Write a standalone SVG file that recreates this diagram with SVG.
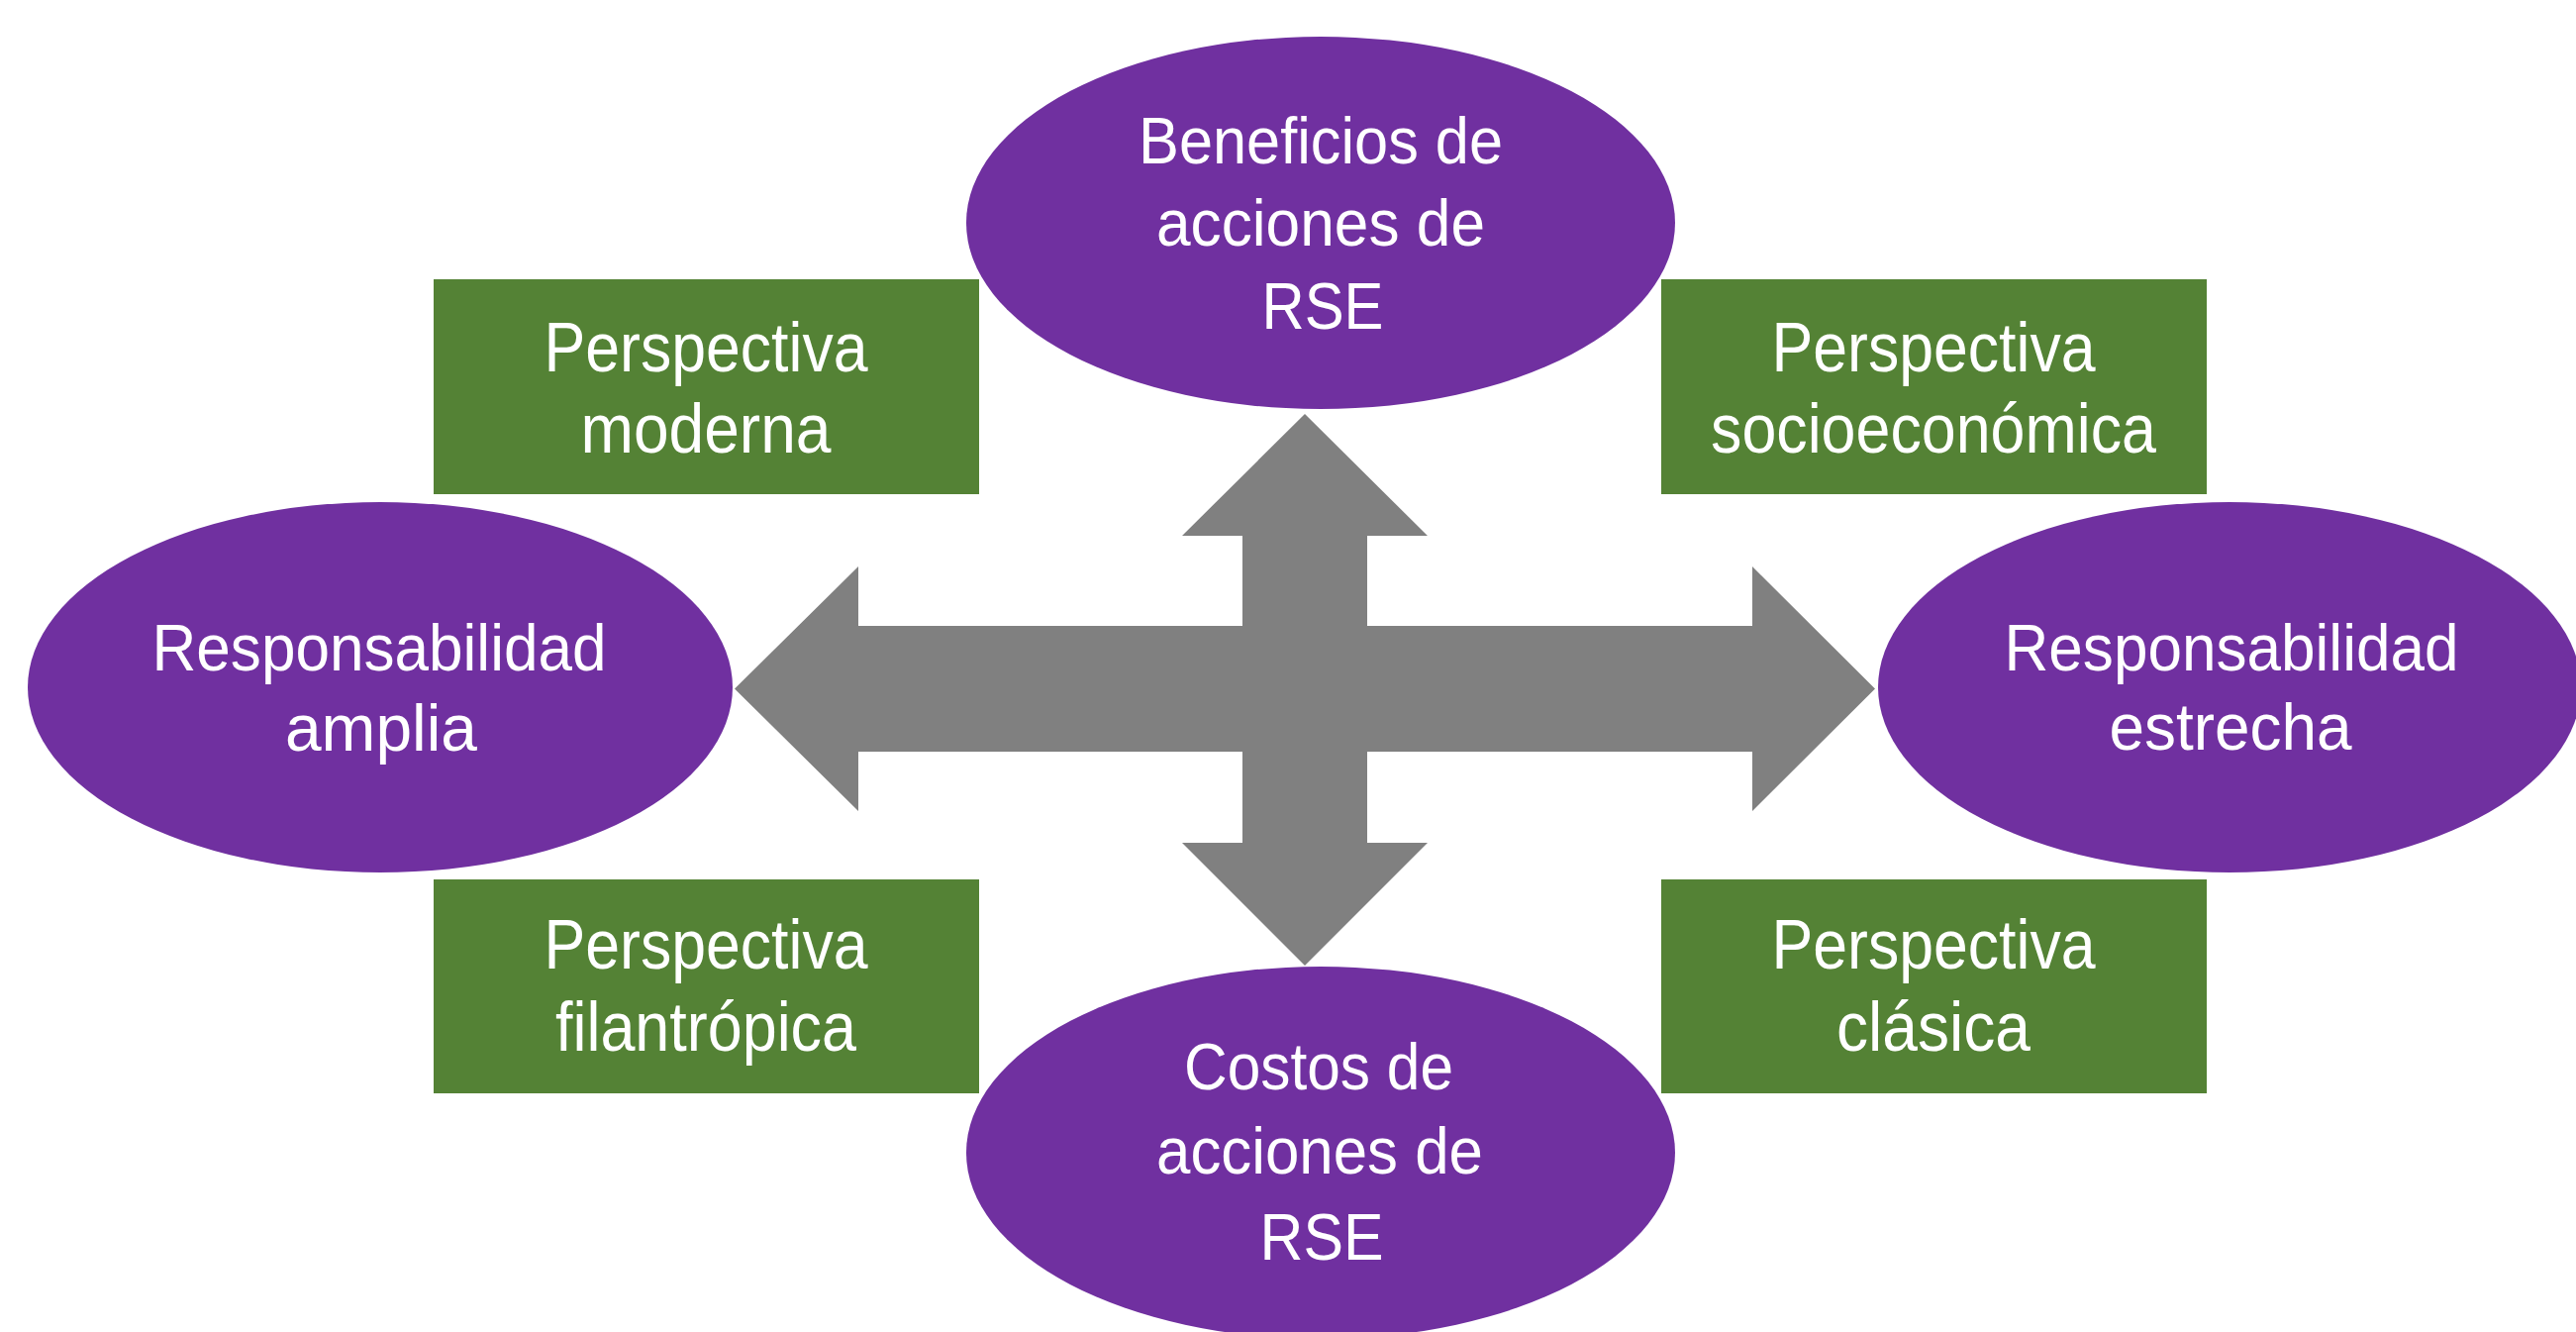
<svg xmlns="http://www.w3.org/2000/svg" width="2602" height="1345" viewBox="0 0 2602 1345">
  <style>
    .ell { fill: #7030A0; }
    .box { fill: #548235; }
    .arrow { fill: #808080; }
    .t { font-family: "Liberation Sans", Arial, sans-serif; fill: #FFFFFF; text-anchor: middle; }
    .te { font-size: 66px; }
    .tb { font-size: 70px; }
  </style>
  <rect x="0" y="0" width="2602" height="1345" fill="#FFFFFF"/>

  <g id="connectors">
    <polygon class="arrow" points="1318,418 1442,541 1381,541 1381,632 1770,632 1770,572 1894,695.5 1770,819 1770,759 1381,759 1381,851 1442,851 1318,975 1194,851 1255,851 1255,759 867,759 867,819 742,695.5 867,572 867,632 1255,632 1255,541 1194,541"/>
  </g>

  <g id="box-moderna">
    <rect class="box" x="438" y="282" width="551" height="217"/>
    <text class="t tb" x="713" y="375" textLength="327" lengthAdjust="spacingAndGlyphs">Perspectiva</text>
    <text class="t tb" x="713" y="457" textLength="253" lengthAdjust="spacingAndGlyphs">moderna</text>
  </g>
  <g id="box-socioeconomica">
    <rect class="box" x="1678" y="282" width="551" height="217"/>
    <text class="t tb" x="1953" y="375" textLength="327" lengthAdjust="spacingAndGlyphs">Perspectiva</text>
    <text class="t tb" x="1953" y="457" textLength="450" lengthAdjust="spacingAndGlyphs">socioeconómica</text>
  </g>
  <g id="box-filantropica">
    <rect class="box" x="438" y="888" width="551" height="216"/>
    <text class="t tb" x="713" y="978" textLength="327" lengthAdjust="spacingAndGlyphs">Perspectiva</text>
    <text class="t tb" x="713" y="1061" textLength="304" lengthAdjust="spacingAndGlyphs">filantrópica</text>
  </g>
  <g id="box-clasica">
    <rect class="box" x="1678" y="888" width="551" height="216"/>
    <text class="t tb" x="1953" y="978" textLength="327" lengthAdjust="spacingAndGlyphs">Perspectiva</text>
    <text class="t tb" x="1953" y="1061" textLength="196" lengthAdjust="spacingAndGlyphs">clásica</text>
  </g>

  <g id="node-beneficios">
    <ellipse class="ell" cx="1334" cy="225" rx="358" ry="188"/>
    <text class="t te" x="1334" y="165" textLength="368" lengthAdjust="spacingAndGlyphs">Beneficios de</text>
    <text class="t te" x="1334" y="248" textLength="332" lengthAdjust="spacingAndGlyphs">acciones de</text>
    <text class="t te" x="1336" y="332" textLength="123" lengthAdjust="spacingAndGlyphs">RSE</text>
  </g>
  <g id="node-costos">
    <ellipse class="ell" cx="1334" cy="1164" rx="358" ry="188"/>
    <text class="t te" x="1332" y="1100" textLength="272" lengthAdjust="spacingAndGlyphs">Costos de</text>
    <text class="t te" x="1333" y="1185" textLength="330" lengthAdjust="spacingAndGlyphs">acciones de</text>
    <text class="t te" x="1335" y="1272" textLength="125" lengthAdjust="spacingAndGlyphs">RSE</text>
  </g>
  <g id="node-amplia">
    <ellipse class="ell" cx="384" cy="694" rx="356" ry="187"/>
    <text class="t te" x="383" y="677" textLength="459" lengthAdjust="spacingAndGlyphs">Responsabilidad</text>
    <text class="t te" x="385" y="758" textLength="194" lengthAdjust="spacingAndGlyphs">amplia</text>
  </g>
  <g id="node-estrecha">
    <ellipse class="ell" cx="2252" cy="694" rx="355" ry="187"/>
    <text class="t te" x="2254" y="677" textLength="459" lengthAdjust="spacingAndGlyphs">Responsabilidad</text>
    <text class="t te" x="2253" y="757" textLength="245" lengthAdjust="spacingAndGlyphs">estrecha</text>
  </g>
</svg>
